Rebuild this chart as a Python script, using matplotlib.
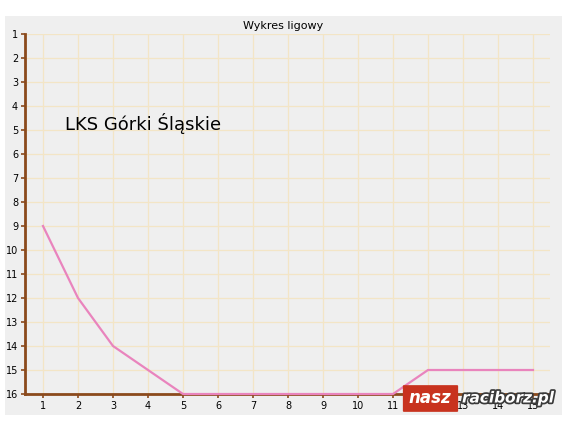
import matplotlib
matplotlib.use("Agg")
import matplotlib.pyplot as plt
import matplotlib.patheffects as pe
from matplotlib.patches import Rectangle, FancyBboxPatch

# kolejki i miejsca w tabeli
rounds = [1, 2, 3, 4, 5, 6, 7, 8, 9, 10, 11, 12, 13, 14, 15]
positions = [9, 12, 14, 15, 16, 16, 16, 16, 16, 16, 16, 15, 15, 15, 15]
y_ticks = list(range(1, 17))
team = "LKS Górki Śląskie"
title = "Wykres ligowy"

W, H = 567, 425
fig = plt.figure(figsize=(W / 100, H / 100), dpi=100)
fig.patch.set_facecolor("white")
fig.patches.append(Rectangle((5 / W, 10 / H), 557 / W, 399 / H,
                             transform=fig.transFigure, facecolor="#efefef",
                             edgecolor="none", zorder=-5))

ax = fig.add_axes([25 / W, 31 / H, 525 / W, 360 / H])
ax.set_zorder(1)
ax.set_facecolor("#efefef")
brown = "#8b4a1c"

ax.plot(rounds, positions, color="#e984bd", lw=1.6, zorder=3, clip_on=False)

ax.set_xlim(0.486, 15.486)
ax.set_ylim(16, 1)
ax.set_xticks(rounds)
ax.set_yticks(y_ticks)
ax.tick_params(labelsize=7, length=3, width=1.2, color=brown, pad=2)
ax.grid(True, color="#f3e5c6", lw=0.9)
ax.set_axisbelow(True)

for s in ["top", "right"]:
    ax.spines[s].set_visible(False)
for s in ["left", "bottom"]:
    ax.spines[s].set_color(brown)
    ax.spines[s].set_linewidth(2)

fig.text(283 / W, 1 - 26 / H, title, ha="center", va="center", fontsize=8)
fig.text(65 / W, 1 - 123 / H, team, ha="left", va="center", fontsize=13)

# logo w rogu
fig.patches.append(FancyBboxPatch((404 / W, 1 - 411 / H), 53 / W, 25 / H,
                                  boxstyle="round,pad=0.002",
                                  transform=fig.transFigure,
                                  facecolor="#c8321e", edgecolor="none",
                                  zorder=5))
fig.text(430 / W, 1 - 398 / H, "nasz", ha="center", va="center",
         fontsize=12, fontweight="bold", style="italic", color="white",
         zorder=6)
fig.text(462 / W, 1 - 398 / H, "raciborz.pl", ha="left", va="center",
         fontsize=11, fontweight="bold", style="italic", color="white",
         zorder=6,
         path_effects=[pe.withStroke(linewidth=2.5, foreground="#3a3a3a")])

fig.savefig("out.png", dpi=100)
